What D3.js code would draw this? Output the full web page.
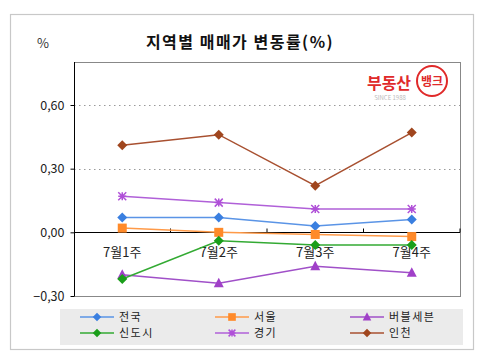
<!DOCTYPE html>
<html><head><meta charset="utf-8">
<script src="https://cdn.jsdelivr.net/npm/d3@7"></script>
<style>body{margin:0;background:#fff}svg{display:block}text{font-family:"Noto Sans CJK KR","Noto Sans",sans-serif}</style>
</head><body><svg id="c" width="480" height="364"></svg>
<script>
const categories = ["7월1주","7월2주","7월3주","7월4주"];
const seriesNames = ["전국","서울","버블세븐","신도시","경기","인천"];
const valJeonguk = [0.07, 0.07, 0.03, 0.06];
const valSeoul = [0.02, 0.00, -0.01, -0.02];
const valBubble = [-0.20, -0.24, -0.16, -0.19];
const valSindosi = [-0.22, -0.04, -0.06, -0.06];
const valGyeonggi = [0.17, 0.14, 0.11, 0.11];
const valIncheon = [0.41, 0.46, 0.22, 0.47];
const yTicks = [-0.30, 0.00, 0.30, 0.60];
const colors = ["#3a7fe0","#ff8a2a","#a040c8","#1a9e1a","#b050d8","#a0461e"];
const lineColors = ["#5a94e6","#ff9a48","#a050c8","#33aa33","#b060d8","#a85030"];
const markers = ["diamond","square","triangle","diamond","asterisk","diamond"];
const allVals = [valJeonguk,valSeoul,valBubble,valSindosi,valGyeonggi,valIncheon];

const svg = d3.select("#c");
svg.append("rect").attr("x",10.5).attr("y",14.5).attr("width",463).attr("height",335)
  .attr("fill","#fff").attr("stroke","#c8c8c8").attr("stroke-width",1.2);

const L=74, R=460, T=62, B=296;
const x = d3.scaleBand().domain(categories).range([L,R]);
const y = d3.scaleLinear().domain([-0.30,0.60]).range([296,105]);

svg.append("rect").attr("x",L+0.5).attr("y",T+0.5).attr("width",R-L).attr("height",B-T)
  .attr("fill","#fff").attr("stroke","#888").attr("stroke-width",1);

[0.30,0.60].forEach(v=>{
  svg.append("line").attr("x1",L).attr("x2",R).attr("y1",Math.round(y(v))+0.5).attr("y2",Math.round(y(v))+0.5)
    .attr("stroke","#999").attr("stroke-dasharray","1.5,3.5");
});

const yAxis = d3.axisLeft(y).tickValues(yTicks).tickSize(4)
  .tickFormat(d=>d3.format(".2f")(d).replace(".",",").replace("-","−"));
const gy = svg.append("g").attr("transform",`translate(${L+0.5},0)`).call(yAxis);
gy.select(".domain").attr("stroke","#000").attr("d",`M0,${T}V${B}`);
gy.selectAll(".tick line").attr("stroke","#000");
gy.selectAll(".tick text").attr("font-size",12.5).attr("fill","#222").attr("x",-10)
  .attr("font-family","Liberation Sans, Arial, sans-serif");

const y0 = Math.round(y(0))+0.5;
svg.append("line").attr("x1",L).attr("x2",R).attr("y1",y0).attr("y2",y0).attr("stroke","#000").attr("stroke-width",1.2);
categories.forEach((c,i)=>{
  const bx = x(c)+x.bandwidth();
  svg.append("line").attr("x1",bx).attr("x2",bx).attr("y1",y0).attr("y2",y0-4).attr("stroke","#000");
});
svg.selectAll(".cat").data(categories).enter().append("text")
  .attr("x",d=>x(d)+x.bandwidth()/2).attr("y",y0+24).attr("text-anchor","middle")
  .attr("font-size",13).attr("fill","#222").text(d=>d);

function drawMarker(g, type, cx, cy, col, s){
  s = s||1;
  if(type==="diamond"){
    g.append("path").attr("d",`M${cx},${cy-5*s}L${cx+5*s},${cy}L${cx},${cy+5*s}L${cx-5*s},${cy}Z`).attr("fill",col);
  } else if(type==="square"){
    g.append("rect").attr("x",cx-4.5*s).attr("y",cy-4.5*s).attr("width",9*s).attr("height",9*s).attr("fill",col);
  } else if(type==="triangle"){
    g.append("path").attr("d",`M${cx},${cy-5.5*s}L${cx+5*s},${cy+4*s}L${cx-5*s},${cy+4*s}Z`).attr("fill",col);
  } else if(type==="asterisk"){
    const r=4*s;
    g.append("path").attr("d",`M${cx-r},${cy-r}L${cx+r},${cy+r}M${cx-r},${cy+r}L${cx+r},${cy-r}M${cx},${cy-r}V${cy+r}M${cx-r},${cy}H${cx+r}`)
      .attr("stroke",col).attr("stroke-width",1.5).attr("fill","none");
  }
}

const line = d3.line().x((d,i)=>x(categories[i])+x.bandwidth()/2).y(d=>y(d));
allVals.forEach((vals,k)=>{
  const g = svg.append("g");
  g.append("path").attr("d",line(vals)).attr("fill","none").attr("stroke",lineColors[k]).attr("stroke-width",1.5);
  vals.forEach((v,i)=>drawMarker(g, markers[k], x(categories[i])+x.bandwidth()/2, y(v), colors[k]));
});

svg.append("text").attr("x",240).attr("y",48).attr("text-anchor","middle").attr("font-size",16)
  .attr("font-weight","bold").attr("letter-spacing",1.5).attr("fill","#111").text("지역별 매매가 변동률(%)");
svg.append("text").attr("x",43).attr("y",48).attr("text-anchor","middle").attr("font-size",13)
  .attr("fill","#333").attr("font-family","Liberation Sans, Arial, sans-serif").text("%");

// logo
svg.append("text").attr("x",389).attr("y",89).attr("text-anchor","middle").attr("font-size",16)
  .attr("font-weight","bold").attr("fill","#e02a2a").text("부동산");
svg.append("circle").attr("cx",432).attr("cy",81).attr("r",15).attr("fill","none").attr("stroke","#e02a2a").attr("stroke-width",2);
svg.append("text").attr("x",432).attr("y",86).attr("text-anchor","middle").attr("font-size",12)
  .attr("font-weight","bold").attr("fill","#e02a2a").text("뱅크");
svg.append("text").attr("x",390).attr("y",100).attr("text-anchor","middle").attr("font-size",6)
  .attr("fill","#bbb").attr("font-family","Liberation Sans, Arial, sans-serif").text("SINCE 1988");

// legend
svg.append("rect").attr("x",60).attr("y",309).attr("width",403).attr("height",36).attr("fill","#ebebeb");
const colX = [80,215,350], rowY=[317,333];
seriesNames.forEach((n,k)=>{
  const cx = colX[k%3], cy = rowY[Math.floor(k/3)];
  const g = svg.append("g");
  g.append("line").attr("x1",cx).attr("x2",cx+34).attr("y1",cy).attr("y2",cy).attr("stroke",lineColors[k]).attr("stroke-width",1.5);
  drawMarker(g, markers[k], cx+17, cy, colors[k], 0.85);
  g.append("text").attr("x",cx+39).attr("y",cy+4.2).attr("font-size",11).attr("letter-spacing",1.5).attr("fill","#222").text(n);
});
</script></body></html>
